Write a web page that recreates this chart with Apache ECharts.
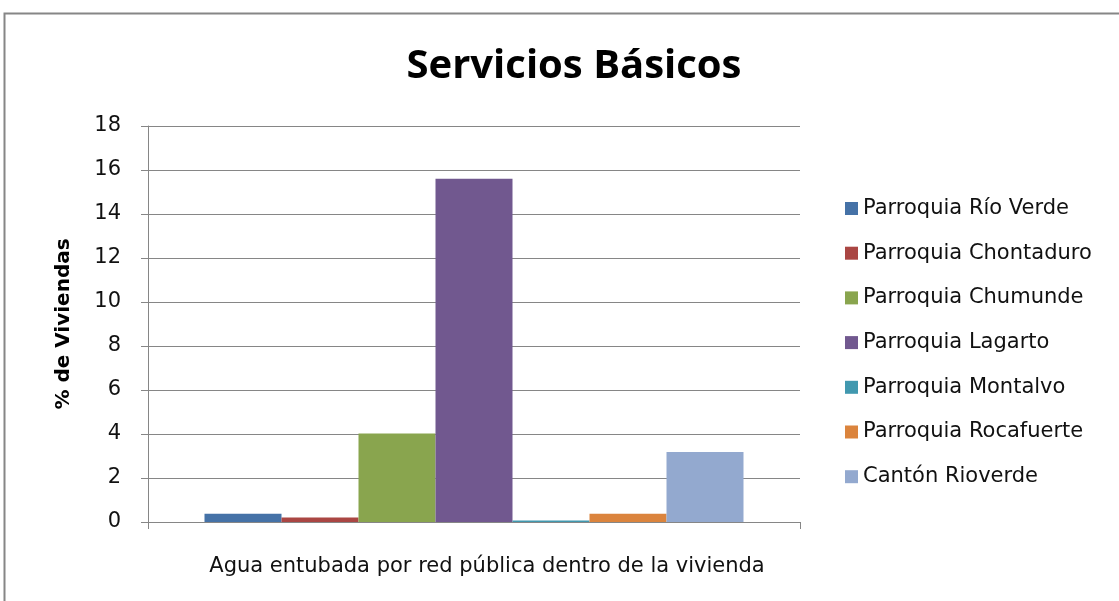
<!DOCTYPE html>
<html>
<head>
    <meta charset="utf-8">
    <title>Servicios Básicos</title>
    <script src="https://cdn.jsdelivr.net/npm/echarts@6/dist/echarts.min.js"></script>
</head>
<body>
<style>
    html, body, #main {
        width: 100%;
        padding: 0;
        margin: 0;
        height: 100%;
        background: #fff;
    }
</style>
<div id="main"></div>
<script type="text/javascript">
    var categories = ['Agua entubada por red pública dentro de la vivienda'];
    var seriesNames = [
        'Parroquia Río Verde',
        'Parroquia Chontaduro',
        'Parroquia Chumunde',
        'Parroquia Lagarto',
        'Parroquia Montalvo',
        'Parroquia Rocafuerte',
        'Cantón Rioverde'
    ];
    var seriesValues = [0.37, 0.2, 4.02, 15.6, 0.07, 0.37, 3.18];
    var colors = ['#4572A7', '#AA4643', '#89A54E', '#71588F', '#4198AF', '#DB843D', '#93A9CF'];

    var font = 'DejaVu Sans';
    var myChart = echarts.init(document.getElementById('main'));
    window.onresize = function () {
        myChart.resize();
    };

    var series = seriesNames.map(function (name, i) {
        return {
            name: name,
            type: 'bar',
            data: [seriesValues[i]],
            barWidth: 77,
            barGap: '0%',
            itemStyle: {color: colors[i]}
        };
    });

    myChart.setOption({
        animation: false,
        color: colors,
        title: {
            text: 'Servicios Básicos',
            left: 569,
            top: 42,
            textAlign: 'center',
            textStyle: {fontFamily: 'Open Sans', fontSize: 40, fontWeight: 'bold', color: '#000'}
        },
        legend: {
            orient: 'vertical',
            left: 840,
            top: 193,
            itemWidth: 13,
            itemHeight: 13,
            itemGap: 23.7,
            icon: 'rect',
            textStyle: {fontFamily: font, fontSize: 21, color: '#111'},
            data: seriesNames
        },
        grid: {left: 148, right: 319, top: 126, bottom: 79},
        xAxis: {
            type: 'category',
            data: categories,
            axisLine: {lineStyle: {color: '#868686'}},
            axisTick: {show: true, length: 7, lineStyle: {color: '#868686'}},
            axisLabel: {fontFamily: font, fontSize: 21, color: '#111', margin: 34, padding: [0, 0, 0, 26]}
        },
        yAxis: {
            type: 'value',
            min: 0,
            max: 18,
            interval: 2,
            name: '% de Viviendas',
            nameLocation: 'middle',
            nameGap: 74,
            nameTextStyle: {fontFamily: font, fontSize: 20, fontWeight: 'bold', color: '#000'},
            axisLine: {show: true, lineStyle: {color: '#868686'}},
            axisTick: {show: true, length: 7, lineStyle: {color: '#868686'}},
            axisLabel: {fontFamily: font, fontSize: 21, color: '#111', margin: 27},
            splitLine: {lineStyle: {color: '#868686'}}
        },
        graphic: [{
            type: 'rect',
            shape: {x: 4.5, y: 13.5, width: 1200, height: 700},
            style: {fill: 'none', stroke: '#868686', lineWidth: 2},
            silent: true
        }],
        series: series
    });
</script>
</body>
</html>
